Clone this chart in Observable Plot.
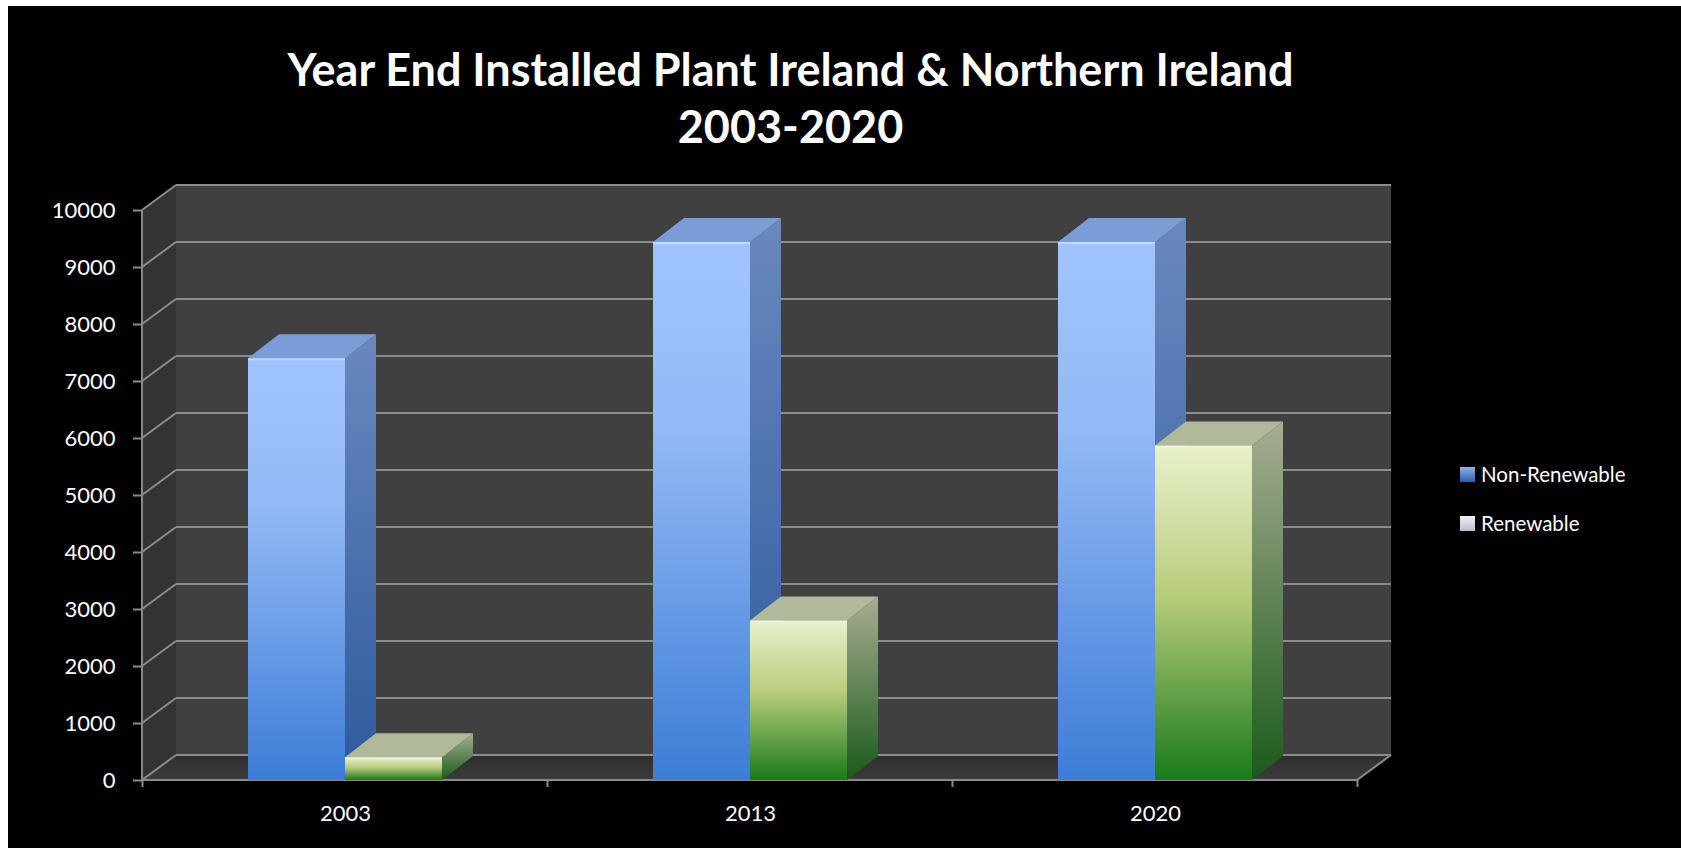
<!DOCTYPE html>
<html>
<head>
<meta charset="utf-8">
<script src="https://cdn.jsdelivr.net/npm/d3@7"></script>
<script src="https://cdn.jsdelivr.net/npm/@observablehq/plot@0.6"></script>
<style>
  html, body { margin: 0; padding: 0; background: #fff; }
  #page { position: relative; width: 1681px; height: 848px; overflow: hidden; }
  #bg { position: absolute; left: 8px; top: 6px; right: 0; bottom: 0; background: #000; }
  #title { position: absolute; left: 0; top: 0; width: 1581px; height: 160px; color: #fff;
           font-family: Lato, "Open Sans", sans-serif; font-weight: bold; text-align: center; }
  #title div { position: absolute; left: 0; width: 100%; white-space: nowrap; }
  #chart { position: absolute; left: 0; top: 160px; }
  #legend { position: absolute; left: 1460px; top: 0; font-family: Lato, sans-serif; font-size: 20.5px; color: #fff; }
  .item { position: absolute; left: 0; white-space: nowrap; display: flex; align-items: center; height: 30px; }
  .sw { width: 15px; height: 15px; margin-right: 6px; }
</style>
</head>
<body>
<div id="page">
  <div id="bg"></div>
  <div id="title"><div id="t1"></div><div id="t2"></div></div>
  <div id="chart"></div>
  <div id="legend"></div>
</div>
<script>
// ---- data ----
const titleLines = ["Year End Installed Plant Ireland & Northern Ireland", "2003-2020"];
const years = ["2003", "2013", "2020"];
const series = ["Non-Renewable", "Renewable"];
const nonRenewable = [7400, 9440, 9440];
const renewable = [400, 2800, 5870];
const yTicks = [0, 1000, 2000, 3000, 4000, 5000, 6000, 7000, 8000, 9000, 10000];

const data = years.flatMap((yr, i) => [
  {year: yr, series: series[0], value: nonRenewable[i]},
  {year: yr, series: series[1], value: renewable[i]}
]);

// ---- style constants ----
const DX = 34, DY = -25;   // wall depth
const BX = 31, BY = -24;   // bar depth
const gridColor = "#8c8c8c";
const frontStops = [
  [["0%", "#a0c4ff"], ["35%", "#93b9f6"], ["100%", "#3d7dd6"]],
  [["0%", "#e8f1cc"], ["45%", "#b9cc7c"], ["100%", "#197a19"]]
];
const sideStops = [
  [["0%", "#6a88bf"], ["100%", "#2d5a9c"]],
  [["0%", "#a7ad92"], ["100%", "#1a5a1a"]]
];
const topColors = ["#7b9dd7", "#b0ba9a"];

// ---- title ----
function fitSize(text, target) {
  const c = document.createElement("canvas").getContext("2d");
  c.font = "bold 40px Lato";
  return 40 * target / c.measureText(text).width;
}
const fs = Math.min(fitSize(titleLines[0], 1007), 46);
const t1 = document.getElementById("t1"), t2 = document.getElementById("t2");
t1.textContent = titleLines[0]; t2.textContent = titleLines[1];
for (const [el, cy] of [[t1, 69], [t2, 126]]) {
  el.style.fontSize = fs + "px"; el.style.lineHeight = "50px"; el.style.top = (cy - 25) + "px";
}

// ---- helpers ----
const NS = "http://www.w3.org/2000/svg";
function el(name, attrs, parent) {
  const e = document.createElementNS(NS, name);
  for (const k in attrs) e.setAttribute(k, attrs[k]);
  if (parent) parent.appendChild(e);
  return e;
}
function poly(parent, pts, fill) {
  return el("polygon", {points: pts.map(p => p.join(",")).join(" "), fill}, parent);
}
function line(parent, x1, y1, x2, y2, stroke = gridColor, w = 2) {
  return el("line", {x1, y1, x2, y2, stroke, "stroke-width": w}, parent);
}
function gradient(defs, id, stops) {
  const g = el("linearGradient", {id, x1: 0, y1: 0, x2: 0, y2: 1}, defs);
  for (const [o, c] of stops) el("stop", {offset: o, "stop-color": c}, g);
}

// ---- walls / floor / axes lines ----
function wallsRender(index, scales, values, dims) {
  const {x, y} = scales;
  const L = dims.marginLeft, R = dims.width - dims.marginRight;
  const B = y(0), T = y(d3.max(yTicks));
  const g = el("g", {});
  const defs = el("defs", {}, g);
  gradient(defs, "floorGrad", [["0%", "#2e2e2e"], ["100%", "#3c3c3c"]]);
  poly(g, [[L + DX, T + DY], [R + DX, T + DY], [R + DX, B + DY], [L + DX, B + DY]], "#404040");
  poly(g, [[L, T], [L + DX, T + DY], [L + DX, B + DY], [L, B]], "#333333");
  poly(g, [[L, B], [L + DX, B + DY], [R + DX, B + DY], [R, B]], "url(#floorGrad)");
  for (const t of yTicks) {
    const yy = y(t);
    line(g, L + DX, yy + DY, R + DX, yy + DY);
    line(g, L, yy, L + DX, yy + DY);
  }
  line(g, R, B, R + DX, B + DY);
  line(g, L, T, L, B, "#8a8a8a", 2);
  line(g, L, B, R, B, "#8a8a8a", 2);
  const step = x.step ? x.step() : scales.scales.x.step;
  const bw = x.bandwidth ? x.bandwidth() : scales.scales.x.bandwidth;
  const bounds = years.map(yr => x(yr) + bw / 2 - step / 2);
  bounds.push(x(years[years.length - 1]) + bw / 2 + step / 2);
  for (const b of bounds) line(g, b, B, b, B + 7, "#8a8a8a", 2);
  return g;
}

// ---- 3D bars ----
function barsRender(index, scales, values, dims) {
  const {x, y} = scales;
  const bw = x.bandwidth ? x.bandwidth() : scales.scales.x.bandwidth;
  const g = el("g", {});
  const defs = el("defs", {}, g);
  series.forEach((s, k) => {
    gradient(defs, "front" + k, frontStops[k]);
    gradient(defs, "side" + k, sideStops[k]);
  });
  for (const i of index) {
    const d = data[i];
    const k = series.indexOf(d.series);
    const x0 = x(d.year) + k * bw / 2, x1 = x0 + bw / 2;
    const y0 = y(0), y1 = y(d.value);
    poly(g, [[x1, y1], [x1 + BX, y1 + BY], [x1 + BX, y0 + BY], [x1, y0]], `url(#side${k})`);
    poly(g, [[x0, y1], [x0 + BX, y1 + BY], [x1 + BX, y1 + BY], [x1, y1]], topColors[k]);
    el("rect", {x: x0, y: y1, width: x1 - x0, height: y0 - y1, fill: `url(#front${k})`}, g);
    line(g, x0, y1 + 1, x1, y1 + 1, "rgba(255,255,255,0.35)", 2);
  }
  return g;
}

const plot = Plot.plot({
  width: 1681,
  height: 688,
  marginLeft: 142,
  marginRight: 324,
  marginTop: 50,
  marginBottom: 68,
  style: {background: "transparent", color: "white", fontFamily: "Lato, sans-serif", overflow: "visible"},
  x: {type: "band", domain: years, paddingInner: 0.521, paddingOuter: 0.26, label: null},
  y: {domain: [0, 10000], label: null},
  marks: [
    Plot.ruleY(yTicks, {y: d => d, render: wallsRender}),
    Plot.axisY(yTicks, {tickSize: 9, tickPadding: 18, stroke: "#8a8a8a", strokeWidth: 2, fill: "white", fontSize: 22, label: null, tickFormat: d => String(d)}),
    Plot.axisX({tickSize: 0, tickPadding: 25, fill: "white", fontSize: 22, label: null}),
    Plot.barY(data, {x: "year", y: "value", render: barsRender})
  ]
});
document.getElementById("chart").appendChild(plot);

// ---- legend ----
const legendStops = [["#8fb3ea", "#2e5fa8"], ["#f2f2f8", "#b8bccc"]];
const legendY = [474, 523];
const legend = document.getElementById("legend");
series.forEach((s, k) => {
  const it = document.createElement("div");
  it.className = "item";
  it.style.top = (legendY[k] - 15) + "px";
  const sw = document.createElement("div");
  sw.className = "sw";
  sw.style.background = `linear-gradient(180deg, ${legendStops[k][0]}, ${legendStops[k][1]})`;
  const tx = document.createElement("span");
  tx.textContent = s;
  it.appendChild(sw); it.appendChild(tx);
  legend.appendChild(it);
});
</script>
</body>
</html>
